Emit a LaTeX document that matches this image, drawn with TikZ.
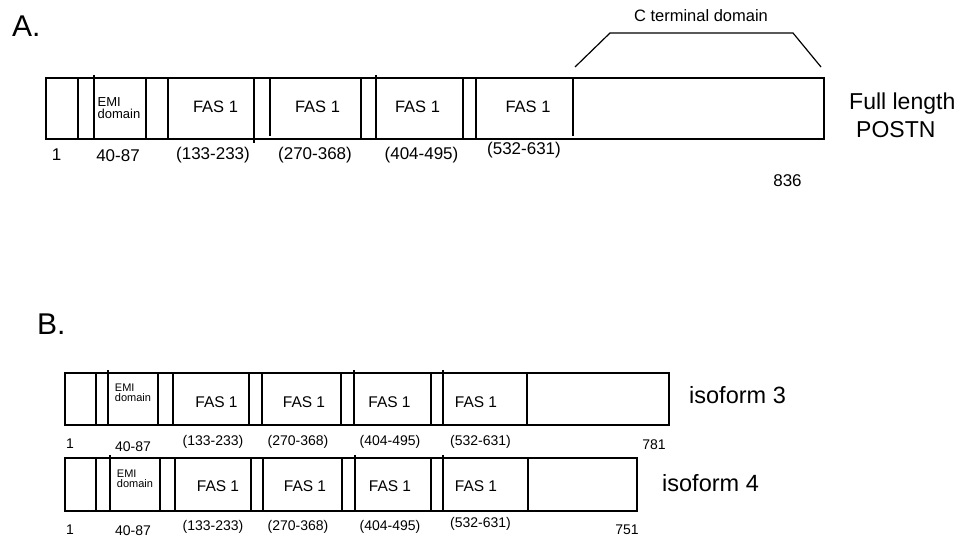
\documentclass[tikz,border=0pt]{standalone}
\usepackage{fontspec}
\setmainfont{Liberation Sans}
\usepackage{tikz}
\usetikzlibrary{positioning}

\newcommand{\fsz}[1]{\fontsize{#1}{#1}\selectfont}
\newcommand{\emisz}[2]{\fontsize{#1}{#2}\selectfont}

\begin{document}
\begin{tikzpicture}[x=1pt,y=-1pt]
	\useasboundingbox (0,0) rectangle (963,537);

	% A. full length POSTN
	\begin{scope}[line width=1.5pt]
		\draw (46,78) rectangle (824,139);
		\draw (78,78) -- (78,139) (94,75) -- (94,139) (146,78) -- (146,139)
		      (168,78) -- (168,139) (254,78) -- (254,143) (270,78) -- (270,136)
		      (361,78) -- (361,139) (376,75) -- (376,139) (463,78) -- (463,139)
		      (476,78) -- (476,139) (573,78) -- (573,136);
	\end{scope}

	\begin{scope}[every node/.style={inner sep=0pt,anchor=base}]
		\node[anchor=base west,font=\fsz{30}] (A) at (12,37) {A.};
		\node[font=\fsz{16.5}] (cterm) at (701,22) {C terminal domain};
		\node[font=\emisz{13}{11.5},align=left,anchor=center] (emiA) at (119,108)
			{EMI\\domain};
		\node[font=\fsz{16.5}] (fasA1) at (215.5,113) {FAS 1};
		\node[font=\fsz{16.5}] (fasA2) at (317.5,113) {FAS 1};
		\node[font=\fsz{16.5}] (fasA3) at (417.5,113) {FAS 1};
		\node[font=\fsz{16.5}] (fasA4) at (528,113) {FAS 1};
		\node[font=\fsz{17}] (nA1) at (56.5,161) {1};
		\node[font=\fsz{17}] (nA2) at (118,162) {40-87};
		\node[font=\fsz{17}] (nA3) at (213,160) {(133-233)};
		\node[font=\fsz{17}] (nA4) at (315,160) {(270-368)};
		\node[font=\fsz{17}] (nA5) at (421.5,160) {(404-495)};
		\node[font=\fsz{17}] (nA6) at (524,155) {(532-631)};
		\node[font=\fsz{17}] (nA7) at (787.5,187) {836};
		\node[anchor=base west,font=\fsz{23}] (full) at (849,110) {Full length};
		\node[anchor=base west,font=\fsz{23}] (postn) at (856,138) {POSTN};
	\end{scope}

	\coordinate (ctl) at (575,67);
	\coordinate (ct1) at (610,33);
	\coordinate (ct2) at (793,33);
	\coordinate (ctr) at (821,67);
	\draw[line width=1.2pt] (ctl) -- (ct1) -- (ct2) -- (ctr);

	% B. isoforms 3 and 4
	\begin{scope}[line width=1.5pt]
		\draw (65,373) rectangle (669,425);
		\draw (96,373) -- (96,425) (108,370) -- (108,425) (158,373) -- (158,425)
		      (173,373) -- (173,425) (249,373) -- (249,425) (262,373) -- (262,425)
		      (341,373) -- (341,425) (354,370) -- (354,425) (431,373) -- (431,425)
		      (443,370) -- (443,425) (527,373) -- (527,425);
		\draw (65,458) rectangle (637,511);
		\draw (96,458) -- (96,511) (110,455) -- (110,511) (160,458) -- (160,511)
		      (175,458) -- (175,511) (251,458) -- (251,511) (263,458) -- (263,511)
		      (342,458) -- (342,511) (355,455) -- (355,511) (431,458) -- (431,511)
		      (443,455) -- (443,511) (528,458) -- (528,511);
	\end{scope}

	\begin{scope}[every node/.style={inner sep=0pt,anchor=base}]
		\node[anchor=base west,font=\fsz{30}] (B) at (37,334) {B.};
		% isoform 3
		\node[font=\emisz{11}{10},align=left,anchor=center] (emiB3) at (133,393)
			{EMI\\domain};
		\node[font=\fsz{15.5}] (fasB31) at (216.5,407) {FAS 1};
		\node[font=\fsz{15.5}] (fasB32) at (304,407) {FAS 1};
		\node[font=\fsz{15.5}] (fasB33) at (389.5,407) {FAS 1};
		\node[font=\fsz{15.5}] (fasB34) at (476,407) {FAS 1};
		\node[font=\fsz{14}] (nB31) at (70,448) {1};
		\node[font=\fsz{14}] (nB32) at (133,451) {40-87};
		\node[font=\fsz{14}] (nB33) at (213,445) {(133-233)};
		\node[font=\fsz{14}] (nB34) at (298,445) {(270-368)};
		\node[font=\fsz{14}] (nB35) at (390,445) {(404-495)};
		\node[font=\fsz{14}] (nB36) at (480.5,445) {(532-631)};
		\node[font=\fsz{14}] (nB37) at (654,449) {781};
		\node[anchor=base west,font=\fsz{23.5}] (iso3) at (689,403) {isoform 3};
		% isoform 4
		\node[font=\emisz{11}{10},align=left,anchor=center] (emiB4) at (135,479)
			{EMI\\domain};
		\node[font=\fsz{15.5}] (fasB41) at (218,491) {FAS 1};
		\node[font=\fsz{15.5}] (fasB42) at (305,491) {FAS 1};
		\node[font=\fsz{15.5}] (fasB43) at (390,491) {FAS 1};
		\node[font=\fsz{15.5}] (fasB44) at (476,491) {FAS 1};
		\node[font=\fsz{14}] (nB41) at (70,534) {1};
		\node[font=\fsz{14}] (nB42) at (133,535) {40-87};
		\node[font=\fsz{14}] (nB43) at (213,530) {(133-233)};
		\node[font=\fsz{14}] (nB44) at (298,530) {(270-368)};
		\node[font=\fsz{14}] (nB45) at (390,530) {(404-495)};
		\node[font=\fsz{14}] (nB46) at (480.5,527) {(532-631)};
		\node[font=\fsz{14}] (nB47) at (627,534) {751};
		\node[anchor=base west,font=\fsz{23.5}] (iso4) at (662,491) {isoform 4};
	\end{scope}
\end{tikzpicture}
\end{document}
